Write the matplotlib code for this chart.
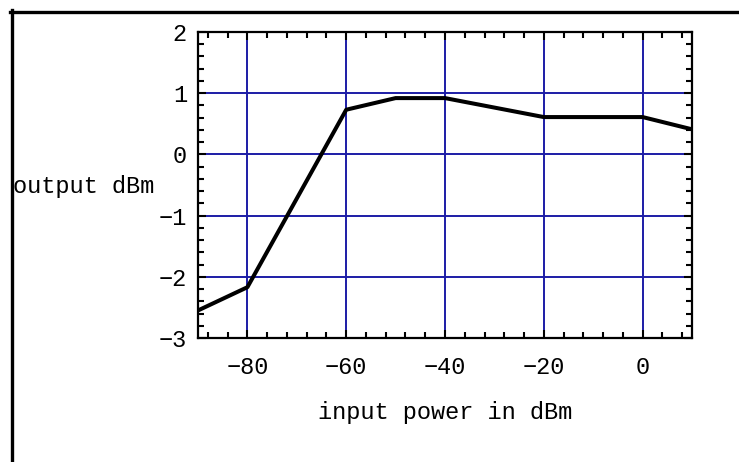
import matplotlib
matplotlib.use("Agg")
import matplotlib.pyplot as plt
from matplotlib.ticker import MultipleLocator
from matplotlib.lines import Line2D

plt.rcParams['font.family'] = ['Liberation Mono', 'DejaVu Sans Mono']

# input power (dBm) vs output (dBm)
power_in = [-90, -80, -60, -50, -40, -20, 0, 10]
power_out = [-2.55, -2.17, 0.73, 0.92, 0.92, 0.61, 0.61, 0.41]
xticks = [-80, -60, -40, -20, 0]
yticks = [-3, -2, -1, 0, 1, 2]

W, H = 739, 462
fig = plt.figure(figsize=(W / 100, H / 100), dpi=100)
ax = fig.add_axes([198 / W, 1 - 338 / H, (692 - 198) / W, (338 - 32) / H])

ax.plot(power_in, power_out, color="k", lw=2.9, zorder=3)

ax.set_xlim(-90, 10)
ax.set_ylim(-3, 2)
ax.set_xticks(xticks)
ax.set_yticks(yticks)
ax.set_xticklabels(["\u2212%d" % -v if v < 0 else str(v) for v in xticks])
ax.set_yticklabels(["\u2212%d" % -v if v < 0 else str(v) for v in yticks])
ax.xaxis.set_minor_locator(MultipleLocator(4))
ax.yaxis.set_minor_locator(MultipleLocator(0.2))
ax.grid(True, which="major", color="#1c1ca6", lw=1.4, zorder=1)
ax.tick_params(which="both", direction="in", top=True, right=True,
               labelsize=17, width=1.5)
ax.tick_params(which="major", length=6)
ax.tick_params(which="minor", length=4)
ax.tick_params(axis="x", pad=13)
ax.tick_params(axis="y", pad=8)
for s in ax.spines.values():
    s.set_linewidth(1.6)

ax.set_xlabel("input power in dBm", fontsize=17, labelpad=16)
fig.text(13 / W, 1 - 187 / H, "output dBm", fontsize=17, ha="left", va="center")

# outer frame
fig.add_artist(Line2D([11.5 / W, 11.5 / W], [0, 1 - 10 / H], color="k", lw=2.4,
                      transform=fig.transFigure))
fig.add_artist(Line2D([10 / W, 1], [1 - 11.5 / H, 1 - 11.5 / H], color="k", lw=2.4,
                      transform=fig.transFigure))

fig.savefig("out.png", dpi=100)
